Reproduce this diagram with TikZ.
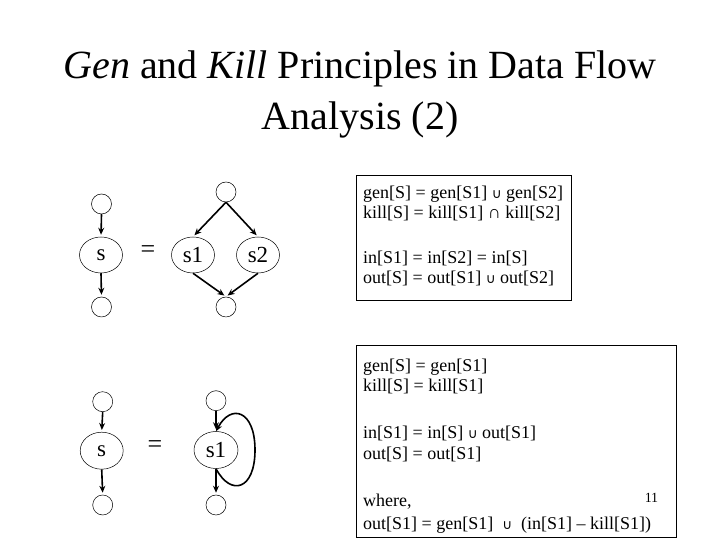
\documentclass[tikz,border=0pt]{standalone}
\usepackage{fontspec}
\setmainfont{Liberation Serif}
\newfontfamily\symf{DejaVu Sans}
\usetikzlibrary{shapes.geometric,arrows.meta}
\newcommand{\cupsym}{{\symf\fontsize{13.5}{13.5}\selectfont ∪}}
\begin{document}
\begin{tikzpicture}[x=1pt,y=1pt,
  smallc/.style={draw,circle,minimum size=20pt,inner sep=0pt,line width=0.5pt},
  blob/.style={draw,ellipse,minimum width=43pt,minimum height=36pt,inner sep=0pt,line width=0.5pt,font=\fontsize{23}{23}\selectfont},
  arr/.style={line width=1.6pt,-{Stealth[length=7pt,width=6pt]},shorten >=2pt},
  eqs/.style={font=\fontsize{26}{26}\selectfont,inner sep=0pt},
  txt/.style={anchor=base west,inner sep=0pt,font=\fontsize{18}{18}\selectfont},
  frame/.style={draw,line width=0.8pt}]
\useasboundingbox (0,0) rectangle (720,540);
\fill[white] (0,0) rectangle (720,540);
% title
\node[anchor=base,inner sep=0pt,font=\fontsize{40}{40}\selectfont] (t1) at (360,461) {\textit{Gen} and \textit{Kill} Principles in Data Flow};
\node[anchor=base,inner sep=0pt,font=\fontsize{40}{40}\selectfont] (t2) at (360,410) {Analysis (2)};
% top group
\node[smallc] (ta) at (101.5,336) {};
\node[blob] (s) at (101,285) {s};
\node[smallc] (tb) at (101.5,233) {};
\node[eqs] (eq1) at (148,288) {=};
\node[smallc] (tc) at (226,348) {};
\node[blob] (s1) at (193,285) {s1};
\node[blob] (s2) at (258,285) {s2};
\node[smallc] (td) at (226,233) {};
\draw[arr] (ta.south) -- (s.north);
\draw[arr] (s.south) -- (tb.north);
\draw[arr] (tc.south) -- (s1.north);
\draw[arr] (tc.south) -- (s2.north);
\draw[arr] (s1.south) -- (td.north);
\draw[arr] (s2.south) -- (td.north);
% top box
\node[frame,anchor=north west,minimum width=215pt,minimum height=125pt,inner sep=0pt] (box1) at (356,365) {};
\node[txt] (g1) at (363,341) {gen[S] = gen[S1] \cupsym{} gen[S2]};
\node[txt] (k1) at (363,321) {kill[S] = kill[S1] ∩ kill[S2]};
\node[txt] (i1) at (363,276) {in[S1] = in[S2] = in[S]};
\node[txt] (o1) at (363,256) {out[S] = out[S1] \cupsym{} out[S2]};
% bottom group
\node[smallc] (ba) at (102.7,138.3) {};
\node[blob,minimum height=37pt] (bs) at (101.7,89.3) {s};
\node[smallc] (bb) at (102.7,35) {};
\node[eqs] (eq2) at (155,93.3) {=};
\node[smallc] (bc) at (216,139.3) {};
\node[blob,minimum width=44pt,minimum height=37pt] (bs1) at (216,90) {s1};
\node[smallc] (bd) at (216,35) {};
\coordinate (lr) at (255,90);
\draw[arr] (ba.south) -- (bs.north);
\draw[arr] (bs.south) -- (bb.north);
\draw[arr] (bc.south) -- (bs1.north);
\draw[arr] (bs1.south) -- (bd.north);
\draw[arr,shorten >=0pt] (bs1.south) .. controls +(15,-28) and +(0,-40) .. (lr) .. controls +(0,40) and +(15,28) .. (bs1.north);
% bottom box
\node[frame,anchor=north west,minimum width=320pt,minimum height=192pt,inner sep=0pt] (box2) at (356,195) {};
\node[txt] (g2) at (363,168) {gen[S] = gen[S1]};
\node[txt] (k2) at (363,148) {kill[S] = kill[S1]};
\node[txt] (i2) at (363,101) {in[S1] = in[S] \cupsym{} out[S1]};
\node[txt] (o2) at (363,80) {out[S] = out[S1]};
\node[txt] (w2) at (363,33) {where,};
\node[txt] (f2) at (363,10) {out[S1] = gen[S1] \ \cupsym{} \ (in[S1] – kill[S1])};
\node[inner sep=0pt,font=\fontsize{14}{14}\selectfont] (pg) at (651.5,42) {11};
\end{tikzpicture}
\end{document}
